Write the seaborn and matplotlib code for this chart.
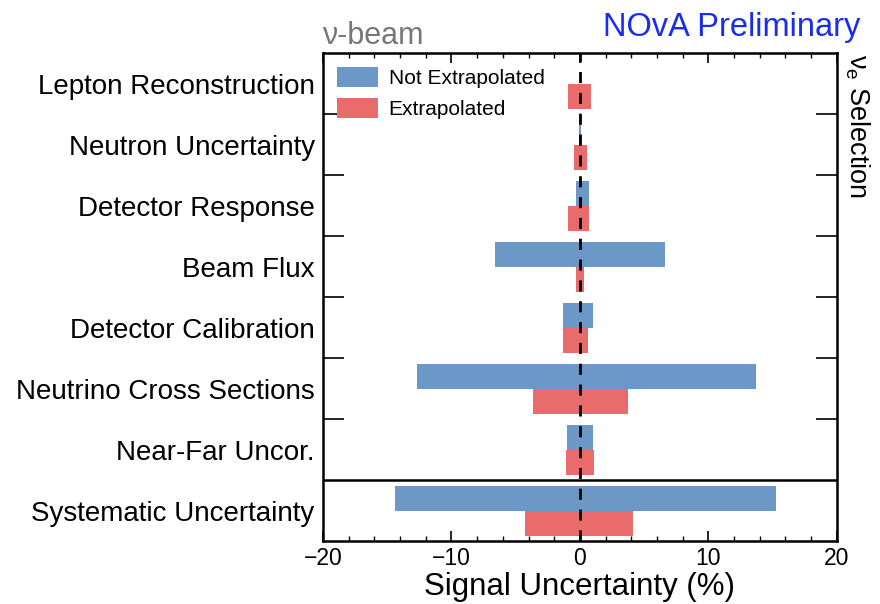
import matplotlib
matplotlib.use("Agg")
import matplotlib.pyplot as plt
import seaborn as sns
import pandas as pd
from matplotlib.ticker import MultipleLocator, FixedLocator

categories = ["Lepton Reconstruction", "Neutron Uncertainty", "Detector Response",
              "Beam Flux", "Detector Calibration", "Neutrino Cross Sections",
              "Near-Far Uncor.", "Systematic Uncertainty"]
notextrap_low = [0.0, -0.08, -0.32, -6.63, -1.34, -12.7, -1.04, -14.4]
notextrap_high = [0.0, 0.10, 0.67, 6.63, 1.04, 13.7, 1.04, 15.3]
extrap_low = [-0.91, -0.43, -0.94, -0.32, -1.34, -3.66, -1.12, -4.28]
extrap_high = [0.88, 0.56, 0.67, 0.32, 0.64, 3.74, 1.10, 4.14]
series = ["Not Extrapolated", "Extrapolated"]
colors = ["#6C98C8", "#EA6B6B"]

rows = []
for i, c in enumerate(categories):
    rows.append((c, series[0], notextrap_low[i], notextrap_high[i]))
    rows.append((c, series[1], extrap_low[i], extrap_high[i]))
df = pd.DataFrame(rows, columns=["cat", "series", "low", "high"])

sns.set_style("white")
plt.rcParams["font.family"] = ["Liberation Sans", "DejaVu Sans"]
plt.rcParams["text.color"] = "black"
plt.rcParams["axes.labelcolor"] = "black"
plt.rcParams["xtick.color"] = "black"
plt.rcParams["ytick.color"] = "black"
plt.rcParams["mathtext.fontset"] = "custom"
plt.rcParams["mathtext.rm"] = "Liberation Sans"
plt.rcParams["mathtext.it"] = "Liberation Sans"

fig = plt.figure(figsize=(8.8, 6.04), dpi=100)
ax = fig.add_axes([0.367, 0.104, 0.584, 0.808])

pal = dict(zip(series, colors))
sns.barplot(data=df, x="high", y="cat", hue="series", hue_order=series,
            order=categories, palette=pal, width=0.82, linewidth=0,
            saturation=1, orient="h", ax=ax, legend=True)
sns.barplot(data=df, x="low", y="cat", hue="series", hue_order=series,
            order=categories, palette=pal, width=0.82, linewidth=0,
            saturation=1, orient="h", ax=ax, legend=False)

ax.axvline(0, color="black", lw=2, ls=(0, (4, 3.5)), zorder=5)
ax.axhline(6.5, color="black", lw=1.8, zorder=5)

ax.set_xlim(-20, 20)
ax.set_ylim(7.5, -0.5)
ax.xaxis.set_major_locator(MultipleLocator(10))
ax.xaxis.set_minor_locator(MultipleLocator(2))
ax.yaxis.set_minor_locator(FixedLocator([0.5, 1.5, 2.5, 3.5, 4.5, 5.5]))
ax.tick_params(axis="x", which="major", direction="in", length=7, width=1.2,
               top=True, bottom=True, labelsize=16.5, pad=4)
ax.tick_params(axis="x", which="minor", direction="in", length=3.5, width=1.0,
               top=True, bottom=True)
ax.tick_params(axis="y", which="major", length=0, labelsize=20, pad=6)
ax.tick_params(axis="y", which="minor", direction="in", length=15, width=1.2,
               left=True, right=True)
ax.set_yticks(range(len(categories)))
ax.set_yticklabels(categories)
ax.set_xticks([-20, -10, 0, 10, 20])
ax.set_xticklabels(["\u221220", "\u221210", "0", "10", "20"])
ax.set_ylabel("")
ax.set_xlabel("Signal Uncertainty (%)", fontsize=22.5, labelpad=1.5)
for s in ax.spines.values():
    s.set_linewidth(1.8)
    s.set_color("black")

leg = ax.legend(loc="upper left", frameon=False, fontsize=15,
                handlelength=2.0, handleheight=1.1, borderaxespad=0.25,
                labelspacing=0.5, handletextpad=0.5)

fig.text(0.366, 0.916, "\u03bd-beam", color="#777777", fontsize=22,
         ha="left", va="bottom")
fig.text(0.978, 0.928, "NOvA Preliminary", color="#1a2ee8", fontsize=23.5,
         ha="right", va="bottom")
fig.text(0.958, 0.91, r"$\nu_e$ Selection", color="black", fontsize=19.5,
         rotation=-90, ha="left", va="top")

fig.savefig("out.png", dpi=100)
